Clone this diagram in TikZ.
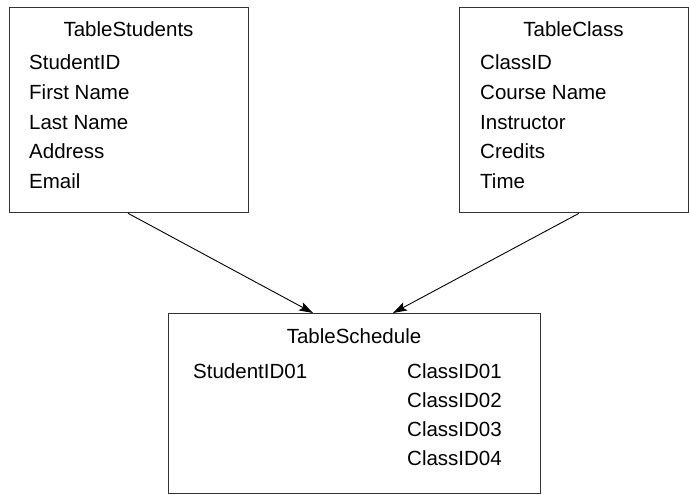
\documentclass[tikz,border=0pt]{standalone}
\usepackage{fontspec}
\setmainfont{Liberation Sans}
\usetikzlibrary{arrows.meta,positioning}
\tikzset{
  tbl/.style={draw=black!80,line width=1.3pt,anchor=north west,inner sep=0pt},
  ttl/.style={anchor=base,inner sep=0pt,font=\fontsize{20.5}{24}\selectfont},
  fld/.style={anchor=base west,inner sep=0pt,font=\fontsize{20.5}{24}\selectfont},
  arr/.style={-{Stealth[length=14pt,width=9pt,inset=3pt]},line width=0.9pt,draw=black},
}
\begin{document}
\begin{tikzpicture}[x=1pt,y=-1pt]
  \useasboundingbox (0,0) rectangle (689,495);
  % the three tables
  \node[tbl,minimum width=239pt,minimum height=205pt] (stu) at (9,7) {};
  \node[tbl,minimum width=229pt,minimum height=205pt] (cls) at (459,7) {};
  \node[tbl,minimum width=372pt,minimum height=180pt] (sch) at (168,313) {};
  \node[ttl] (stut) at (128.5,37) {TableStudents};
  \node[ttl] (clst) at (573.5,37) {TableClass};
  \node[ttl] (scht) at (354,343) {TableSchedule};
  \foreach \f [count=\i] in {StudentID,First Name,Last Name,Address,Email}
    \node[fld] (stu\i) at (29,{70+29.5*(\i-1)}) {\f};
  \foreach \f [count=\i] in {ClassID,Course Name,Instructor,Credits,Time}
    \node[fld] (cls\i) at (480,{70+29.5*(\i-1)}) {\f};
  \node[fld] (schs) at (193,378) {StudentID01};
  \foreach \i in {1,...,4}
    \node[fld] (schc\i) at (407,{378+29.3*(\i-1)}) {ClassID0\i};
  % links
  \draw[arr] ([xshift=119pt]stu.south west) -- ([xshift=145pt]sch.north west);
  \draw[arr] ([xshift=120pt]cls.south west) -- ([xshift=225pt]sch.north west);
\end{tikzpicture}
\end{document}
